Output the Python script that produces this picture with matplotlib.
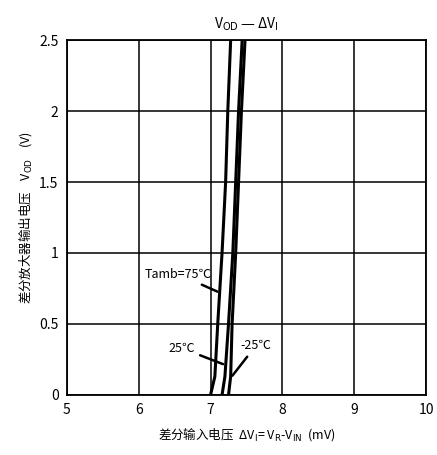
import matplotlib
matplotlib.use("Agg")
import matplotlib.pyplot as plt

plt.rcParams['font.family'] = ['Noto Sans CJK SC', 'DejaVu Sans']

# curve data: V_OD (V) vs delta V_I (mV)
vod = [0.0, 0.13, 0.5, 1.0, 1.5, 2.0, 2.5]
dvi_75 = [7.00, 7.06, 7.10, 7.16, 7.21, 7.24, 7.28]
dvi_25 = [7.16, 7.20, 7.25, 7.31, 7.35, 7.39, 7.44]
dvi_m25 = [7.25, 7.28, 7.30, 7.35, 7.39, 7.43, 7.48]

xticks = [5, 6, 7, 8, 9, 10]
yticks = [0, 0.5, 1, 1.5, 2, 2.5]
ytick_labels = ['0', '0.5', '1', '1.5', '2', '2.5']

fig = plt.figure(figsize=(4.37, 4.55), dpi=100)
ax = fig.add_axes([0.153, 0.132, 0.822, 0.78])

for xs in (dvi_75, dvi_25, dvi_m25):
    ax.plot(xs, vod, color='black', linewidth=2.2, solid_capstyle='butt')

ax.set_xlim(5, 10)
ax.set_ylim(0, 2.5)
ax.set_xticks(xticks)
ax.set_yticks(yticks)
ax.set_yticklabels(ytick_labels)
ax.grid(True, color='black', linewidth=1.1)
ax.tick_params(length=0, labelsize=10, pad=6)
for sp in ax.spines.values():
    sp.set_linewidth(1.3)

# annotations
ax.annotate('Tamb=75℃', xy=(7.13, 0.72), xytext=(7.02, 0.85),
            fontsize=9, ha='right', va='center',
            arrowprops=dict(arrowstyle='-', color='black', lw=1.8))
ax.annotate('25℃', xy=(7.21, 0.21), xytext=(6.78, 0.33),
            fontsize=9, ha='right', va='center',
            arrowprops=dict(arrowstyle='-', color='black', lw=1.8))
ax.annotate('-25℃', xy=(7.28, 0.12), xytext=(7.42, 0.35),
            fontsize=9, ha='left', va='center',
            arrowprops=dict(arrowstyle='-', color='black', lw=1.8))

ax.set_title('V$_{\\mathrm{OD}}$ — ΔV$_{\\mathrm{I}}$', fontsize=10, pad=8)
ax.set_xlabel('差分输入电压  ΔV$_{\\mathrm{I}}$= V$_{\\mathrm{R}}$-V$_{\\mathrm{IN}}$  (mV)',
              fontsize=9, labelpad=6)
ax.set_ylabel('差分放大器输出电压    V$_{\\mathrm{OD}}$    (V)', fontsize=9, labelpad=4)

fig.savefig('out.png', dpi=100)
